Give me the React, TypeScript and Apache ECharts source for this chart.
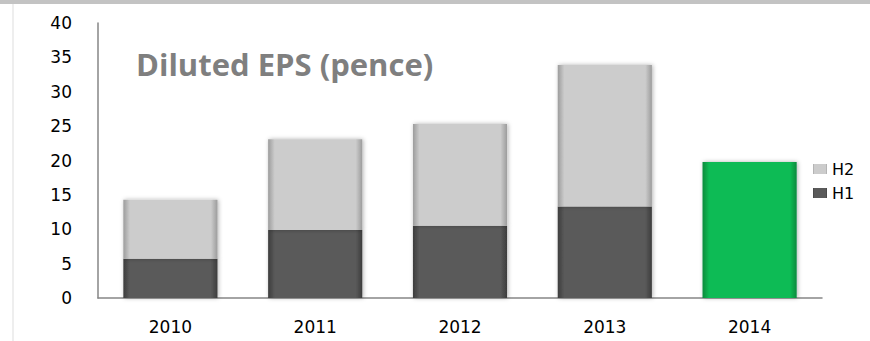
import React, { useEffect, useRef } from "react";
import * as echarts from "echarts";

const years = ["2010", "2011", "2012", "2013", "2014"];
const h1Values: (number | null)[] = [5.7, 9.9, 10.5, 13.3, null];
const h2Values: (number | null)[] = [8.6, 13.2, 14.8, 20.6, null];
const fullYearValues: (number | null)[] = [null, null, null, null, 19.8];
const yTicks = { min: 0, max: 40, interval: 5 };
const titleText = "Diluted EPS (pence)";

const sideGradient = (edge: string, mid: string) =>
  new echarts.graphic.LinearGradient(0, 0, 1, 0, [
    { offset: 0, color: edge },
    { offset: 0.07, color: mid },
    { offset: 0.93, color: mid },
    { offset: 1, color: edge },
  ]);

export default function App() {
  const ref = useRef<HTMLDivElement>(null);
  useEffect(() => {
    if (!ref.current) return;
    const chart = echarts.init(ref.current, null, { renderer: "svg" });
    const labelFont = "'DejaVu Sans', Verdana, sans-serif";
    const barShadow = {
      shadowColor: "rgba(0,0,0,0.3)",
      shadowBlur: 4,
      shadowOffsetX: 1,
      shadowOffsetY: 0,
    };
    chart.setOption({
      animation: false,
      backgroundColor: "#ffffff",
      title: {
        text: titleText,
        left: 131,
        top: 43,
        textStyle: {
          fontFamily: "'Open Sans', sans-serif",
          fontWeight: "bold",
          fontSize: 31,
          color: "#7f7f7f",
        },
      },
      legend: {
        data: ["H2", "H1"],
        orient: "vertical",
        left: 808,
        top: 156,
        icon: "rect",
        itemWidth: 14,
        itemHeight: 10,
        itemGap: 8,
        textStyle: { fontFamily: labelFont, fontSize: 16, color: "#000" },
      },
      grid: { left: 98, right: 48, top: 23, bottom: 43, containLabel: false },
      xAxis: {
        type: "category",
        data: years,
        axisLine: { lineStyle: { color: "#868686", width: 1.5 } },
        axisTick: { show: false },
        axisLabel: {
          margin: 20,
          fontFamily: labelFont,
          fontSize: 17,
          color: "#000",
        },
      },
      yAxis: {
        type: "value",
        min: yTicks.min,
        max: yTicks.max,
        interval: yTicks.interval,
        axisLine: { show: true, lineStyle: { color: "#868686", width: 1.5 } },
        axisTick: { show: false },
        splitLine: { show: false },
        axisLabel: {
          margin: 26,
          fontFamily: labelFont,
          fontSize: 17,
          color: "#000",
        },
      },
      graphic: [
        {
          type: "rect",
          shape: { x: 0, y: 0, width: 870, height: 4 },
          style: { fill: "#c3c3c3" },
          silent: true,
        },
        {
          type: "rect",
          shape: { x: 12, y: 4, width: 2, height: 337 },
          style: { fill: "#eeeeee" },
          silent: true,
        },
      ],
      series: [
        {
          name: "H1",
          type: "bar",
          stack: "eps",
          barCategoryGap: "35%",
          data: h1Values,
          itemStyle: { color: sideGradient("#3c3c3c", "#5a5a5a"), ...barShadow },
        },
        {
          name: "H2",
          type: "bar",
          stack: "eps",
          data: h2Values,
          itemStyle: { color: sideGradient("#9c9c9c", "#cccccc"), ...barShadow },
        },
        {
          name: "FY",
          type: "bar",
          stack: "eps",
          data: fullYearValues,
          itemStyle: { color: sideGradient("#078a3c", "#0abb54"), ...barShadow },
        },
      ],
    });
    return () => chart.dispose();
  }, []);
  return (
    <div
      ref={ref}
      style={{ position: "absolute", left: 0, top: 0, width: 870, height: 341 }}
    />
  );
}
